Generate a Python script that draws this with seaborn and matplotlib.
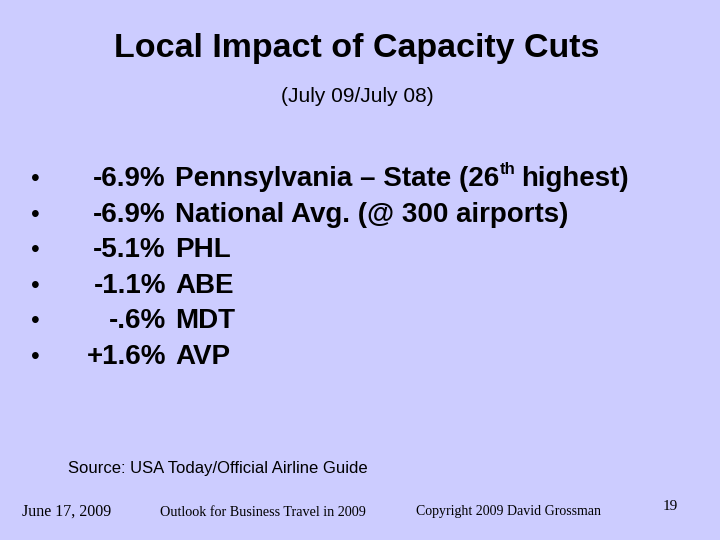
import matplotlib
matplotlib.use("Agg")
import matplotlib.pyplot as plt
import seaborn as sns

title = "Local Impact of Capacity Cuts"
subtitle = "(July 09/July 08)"
changes = ["-6.9%", "-6.9%", "-5.1%", "-1.1%", "-.6%", "+1.6%"]
places = ["Pennsylvania – State (26", "National Avg. (@ 300 airports)", "PHL", "ABE", "MDT", "AVP"]
source = "Source: USA Today/Official Airline Guide"
footer = ["June 17, 2009", "Outlook for Business Travel in 2009", "Copyright 2009 David Grossman"]
page = "19"

sns.set_theme(style="white")
plt.rcParams['font.family'] = ['Liberation Sans', 'DejaVu Sans']
plt.rcParams['text.color'] = 'black'
bg = "#CCCCFF"

fig = plt.figure(figsize=(7.2, 5.4), dpi=100, facecolor=bg)
ax = fig.add_axes([0, 0, 1, 1], facecolor=bg)
ax.set_xlim(0, 720)
ax.set_ylim(540, 0)
ax.axis("off")

ax.text(357, 48, title, ha="center", va="center", fontsize=24.5, weight="bold")
ax.text(357, 97, subtitle, ha="center", va="center", fontsize=15)

fig.canvas.draw()
r = fig.canvas.get_renderer()
inv = ax.transData.inverted()
row_y = 179
for val, name in zip(changes, places):
    ax.text(35, row_y, "•", ha="center", va="center", fontsize=18)
    ax.text(166, row_y, val, ha="right", va="center", fontsize=20, weight="bold")
    t = ax.text(175, row_y, name, ha="left", va="center", fontsize=20, weight="bold")
    if name.endswith("(26"):
        bb = t.get_window_extent(r)
        x_end = inv.transform((bb.x1, bb.y0))[0]
        sup = ax.text(x_end + 1, row_y - 9, "th", ha="left", va="center", fontsize=12, weight="bold")
        bb2 = sup.get_window_extent(r)
        x2 = inv.transform((bb2.x1, bb2.y0))[0]
        ax.text(x2 + 5, row_y, "highest)", ha="left", va="center", fontsize=20, weight="bold")
    row_y += 35.6

ax.text(68, 468, source, ha="left", va="center", fontsize=12)
ax.text(22, 512, footer[0], ha="left", va="center", fontsize=11.5, family="Liberation Serif")
ax.text(263, 512, footer[1], ha="center", va="center", fontsize=10.2, family="Liberation Serif")
ax.text(508, 512, footer[2], ha="center", va="center", fontsize=10, family="Liberation Serif")
ax.text(670, 506, page, ha="center", va="center", fontsize=11, family="Liberation Serif")

fig.savefig("out.png", dpi=100, facecolor=bg)
